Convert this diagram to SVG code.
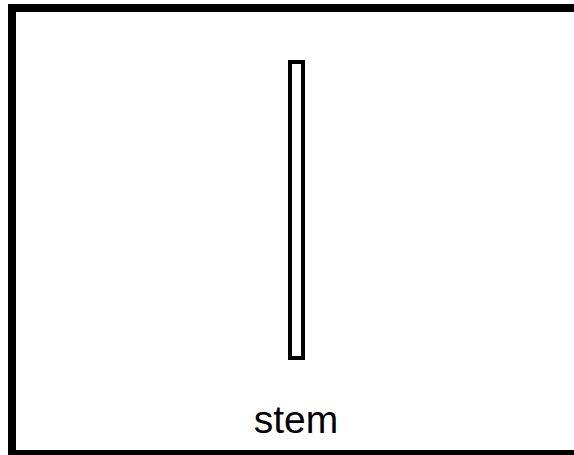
<svg xmlns="http://www.w3.org/2000/svg" width="574" height="455" viewBox="0 0 574 455">
<style>
.frame{fill:none;stroke:#000;stroke-width:8}
.part{fill:#fff;stroke:#000;stroke-width:4}
.lbl{font-family:"Liberation Sans",Arial,sans-serif;font-size:39px;fill:#000;text-anchor:middle}
</style>
<rect width="574" height="455" fill="#fff"/>
<rect class="frame" x="12" y="8" width="570" height="446"/>
<g id="stem">
<rect class="part" x="290" y="62" width="13" height="296"/>
<text class="lbl" x="296" y="433">stem</text>
</g>
</svg>
